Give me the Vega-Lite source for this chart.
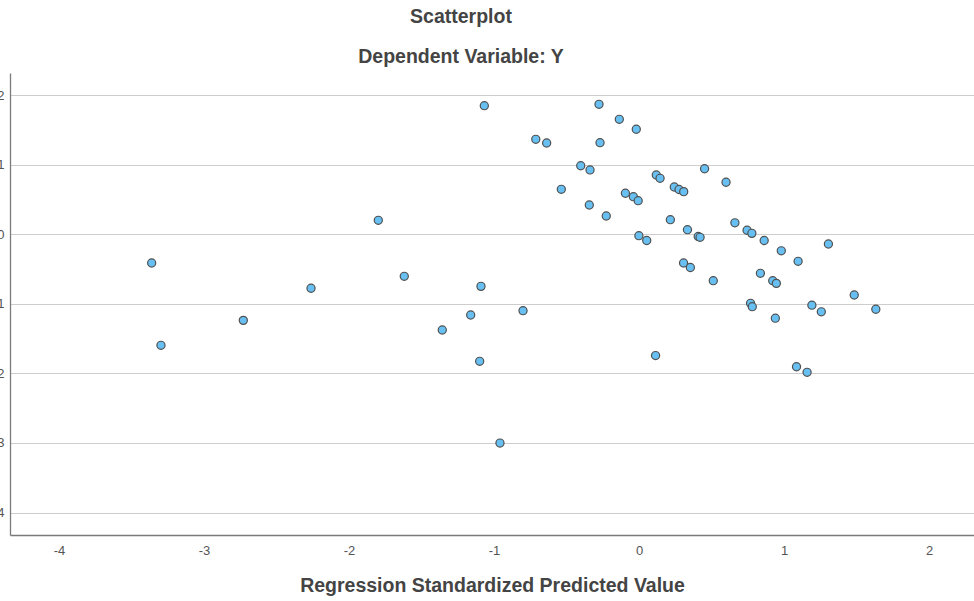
{
  "$schema": "https://vega.github.io/schema/vega-lite/v6.json",
  "autosize": "none",
  "width": 964,
  "height": 462,
  "padding": {"left": 10, "top": 73, "right": 0, "bottom": 66},
  "background": "white",
  "title": {
    "text": "Scatterplot",
    "subtitle": "Dependent Variable: Y",
    "anchor": "middle",
    "dx": -31,
    "offset": 6,
    "font": "Liberation Sans",
    "fontSize": 19.5,
    "fontWeight": "bold",
    "color": "#444444",
    "subtitleFont": "Liberation Sans",
    "subtitleFontSize": 19.5,
    "subtitleFontWeight": "bold",
    "subtitleColor": "#444444",
    "subtitlePadding": 20
  },
  "config": {
    "view": {"stroke": null},
    "axis": {
      "labelFont": "Liberation Sans",
      "labelFontSize": 13,
      "labelColor": "#555555",
      "titleFont": "Liberation Sans",
      "titleColor": "#444444",
      "domainColor": "#7a7a7a",
      "domainWidth": 1.3,
      "ticks": false
    }
  },
  "data": {
    "values": [
      {"x": -1.067, "y": 1.849}, {"x": -0.276, "y": 1.869}, {"x": -0.136, "y": 1.653}, {"x": -0.019, "y": 1.510},
      {"x": -0.712, "y": 1.366}, {"x": -0.637, "y": 1.313}, {"x": -0.269, "y": 1.317}, {"x": -0.402, "y": 0.986},
      {"x": -0.338, "y": 0.925}, {"x": 0.452, "y": 0.942}, {"x": 0.119, "y": 0.853}, {"x": 0.145, "y": 0.805},
      {"x": 0.600, "y": 0.748}, {"x": -0.536, "y": 0.647}, {"x": 0.243, "y": 0.680}, {"x": 0.276, "y": 0.644},
      {"x": 0.308, "y": 0.613}, {"x": -0.094, "y": 0.590}, {"x": -0.039, "y": 0.541}, {"x": -0.006, "y": 0.483},
      {"x": -0.343, "y": 0.421}, {"x": -0.226, "y": 0.263}, {"x": 0.216, "y": 0.210}, {"x": -1.798, "y": 0.201},
      {"x": 0.661, "y": 0.165}, {"x": 0.745, "y": 0.058}, {"x": 0.778, "y": 0.014}, {"x": 0.334, "y": 0.066},
      {"x": 0.408, "y": -0.032}, {"x": 0.421, "y": -0.043}, {"x": -0.001, "y": -0.020}, {"x": 0.053, "y": -0.089},
      {"x": 0.863, "y": -0.089}, {"x": 0.981, "y": -0.237}, {"x": 1.306, "y": -0.139}, {"x": -3.361, "y": -0.413},
      {"x": 0.307, "y": -0.413}, {"x": 0.354, "y": -0.477}, {"x": 1.097, "y": -0.388}, {"x": 0.837, "y": -0.561},
      {"x": -1.619, "y": -0.604}, {"x": 0.512, "y": -0.667}, {"x": 0.922, "y": -0.667}, {"x": 0.947, "y": -0.705},
      {"x": -2.262, "y": -0.776}, {"x": -1.090, "y": -0.748}, {"x": 1.484, "y": -0.873}, {"x": 0.769, "y": -0.992},
      {"x": 0.781, "y": -1.041}, {"x": 1.192, "y": -1.019}, {"x": 1.257, "y": -1.114}, {"x": 1.633, "y": -1.078},
      {"x": -0.800, "y": -1.098}, {"x": -1.161, "y": -1.160}, {"x": 0.940, "y": -1.206}, {"x": -2.729, "y": -1.237},
      {"x": -1.357, "y": -1.376}, {"x": -3.297, "y": -1.596}, {"x": 0.114, "y": -1.743}, {"x": -1.099, "y": -1.826},
      {"x": 1.086, "y": -1.904}, {"x": 1.159, "y": -1.984}, {"x": -0.959, "y": -3.001}
    ]
  },
  "mark": {"type": "point", "filled": true, "fill": "#68c0f2", "stroke": "#505050", "strokeWidth": 1.2, "size": 66, "opacity": 1, "shape": "circle"},
  "encoding": {
    "x": {
      "field": "x", "type": "quantitative",
      "scale": {"domain": [-4.338, 2.31], "nice": false, "zero": false},
      "axis": {
        "values": [-4, -3, -2, -1, 0, 1, 2],
        "labelExpr": "toString(datum.value)",
        "grid": false,
        "labelPadding": 9,
        "title": "Regression Standardized Predicted Value",
        "titleFontSize": 19.5,
        "titleFontWeight": "bold",
        "titlePadding": 19
      }
    },
    "y": {
      "field": "y", "type": "quantitative",
      "scale": {"domain": [-4.323, 2.319], "nice": false, "zero": false},
      "axis": {
        "values": [-4, -3, -2, -1, 0, 1, 2],
        "labelExpr": "toString(datum.value)",
        "grid": true,
        "gridColor": "#cdcdcd",
        "gridWidth": 1,
        "labelPadding": 6,
        "title": null
      }
    }
  }
}
